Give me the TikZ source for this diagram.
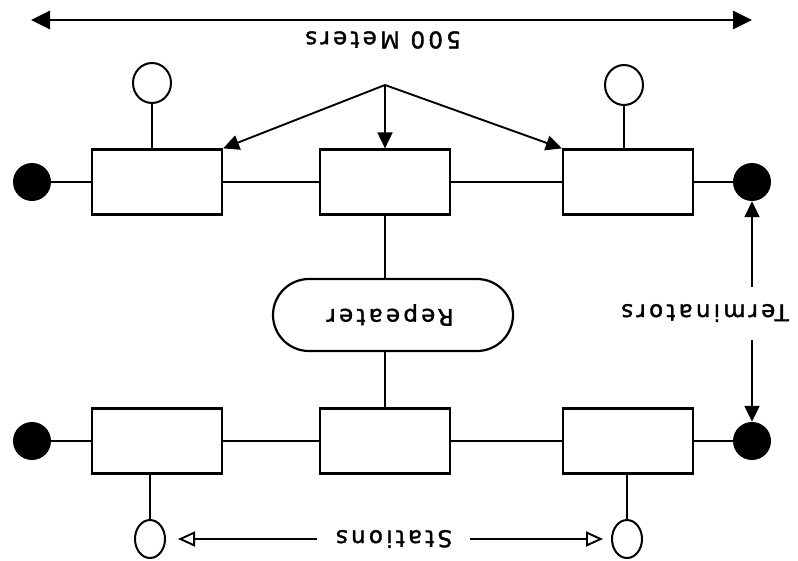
\documentclass[tikz,border=0pt]{standalone}
\usepackage{fontspec}
\newfontfamily\lblfont{DejaVu Sans}[LetterSpace=14, FakeBold=1.5]
\usepackage{tikz}
\usetikzlibrary{arrows.meta,shapes.geometric}

\begin{document}
\begin{tikzpicture}[x=1pt, y=-1pt,
  box/.style={draw, line width=2.2pt, minimum width=130pt,
    minimum height=65pt, inner sep=0pt},
  repbox/.style={draw, line width=2.2pt, rounded corners=36pt,
    minimum width=240pt, minimum height=72pt, inner sep=0pt},
  term/.style={circle, fill=black, minimum size=38pt, inner sep=0pt},
  stn/.style={ellipse, draw, line width=2pt, inner sep=0pt},
  lbl/.style={rotate=180, inner sep=0pt,
    font=\fontsize{23}{26}\selectfont\lblfont},
  wire/.style={line width=1.9pt},
  fat/.style={line width=1.9pt, -{Triangle[length=16pt,width=15pt]}},
  hollow/.style={line width=1.9pt,
    -{Triangle[open,length=17pt,width=15pt,line width=1.9pt]}}]

  \useasboundingbox (0,0) rectangle (798,560);

  % === LENGTH OF THE SEGMENT ===
  \coordinate (mL) at (31,20);
  \coordinate (mR) at (752,20);
  \draw[line width=2.8pt,
    {Triangle[length=19pt,width=18pt]}-{Triangle[length=19pt,width=18pt]}]
    (mL) -- (mR);
  \node[lbl] (meters) at (383,40) {500 Meters};

  % === UPPER SEGMENT ===
  \node[box] (b1) at (157,182) {};
  \node[box] (b2) at (385,182) {};
  \node[box] (b3) at (628,182) {};
  \node[term] (t1) at (32,182) {};
  \node[term] (t2) at (752,182) {};
  \draw[wire] (t1) -- (b1) -- (b2) -- (b3) -- (t2);
  % Stations on top
  \node[stn, minimum width=38pt, minimum height=40pt] (s1) at (152,83) {};
  \node[stn, minimum width=38pt, minimum height=40pt] (s2) at (624,85) {};
  \draw[wire] (s1) -- (s1 |- b1.north);
  \draw[wire] (s2) -- (s2 |- b3.north);
  % Arrows from one point
  \coordinate (apex) at (385,85);
  \draw[fat] (apex) -- (b1.north east);
  \draw[fat] (apex) -- (b2.north);
  \draw[fat] (apex) -- (b3.north west);

  % === REPEATER ===
  \node[repbox] (rep) at (393,315) {};
  \node[lbl] (reptxt) at (390,315) {Repeater};

  % === LOWER SEGMENT ===
  \node[box] (b4) at (157,441) {};
  \node[box] (b5) at (385,441) {};
  \node[box] (b6) at (628,441) {};
  \node[term] (t3) at (32,441) {};
  \node[term] (t4) at (752,441) {};
  \draw[wire] (t3) -- (b4) -- (b5) -- (b6) -- (t4);
  \draw[wire] (b2.south) -- (b2.south |- rep.north);
  \draw[wire] (b5.north |- rep.south) -- (b5.north);
  % Stations below
  \node[stn, minimum width=30pt, minimum height=38pt] (s3) at (150,539) {};
  \node[stn, minimum width=30pt, minimum height=38pt] (s4) at (627,539) {};
  \draw[wire] (s3 |- b4.south) -- (s3);
  \draw[wire] (s4 |- b6.south) -- (s4);

  % === LABELS WITH POINTERS ===
  \node[lbl] (stat) at (394,539) {Stations};
  \coordinate (sl) at (317,539);
  \coordinate (sr) at (470,539);
  \draw[hollow, shorten >=12pt] (sl) -- (s3);
  \draw[hollow, shorten >=8pt] (sr) -- (s4);

  \node[lbl] (termtxt) at (705,313) {Terminators};
  \coordinate (tu) at (752,287);
  \coordinate (td) at (752,340);
  \draw[fat] (tu) -- (t2);
  \draw[fat] (td) -- (t4);

\end{tikzpicture}
\end{document}
